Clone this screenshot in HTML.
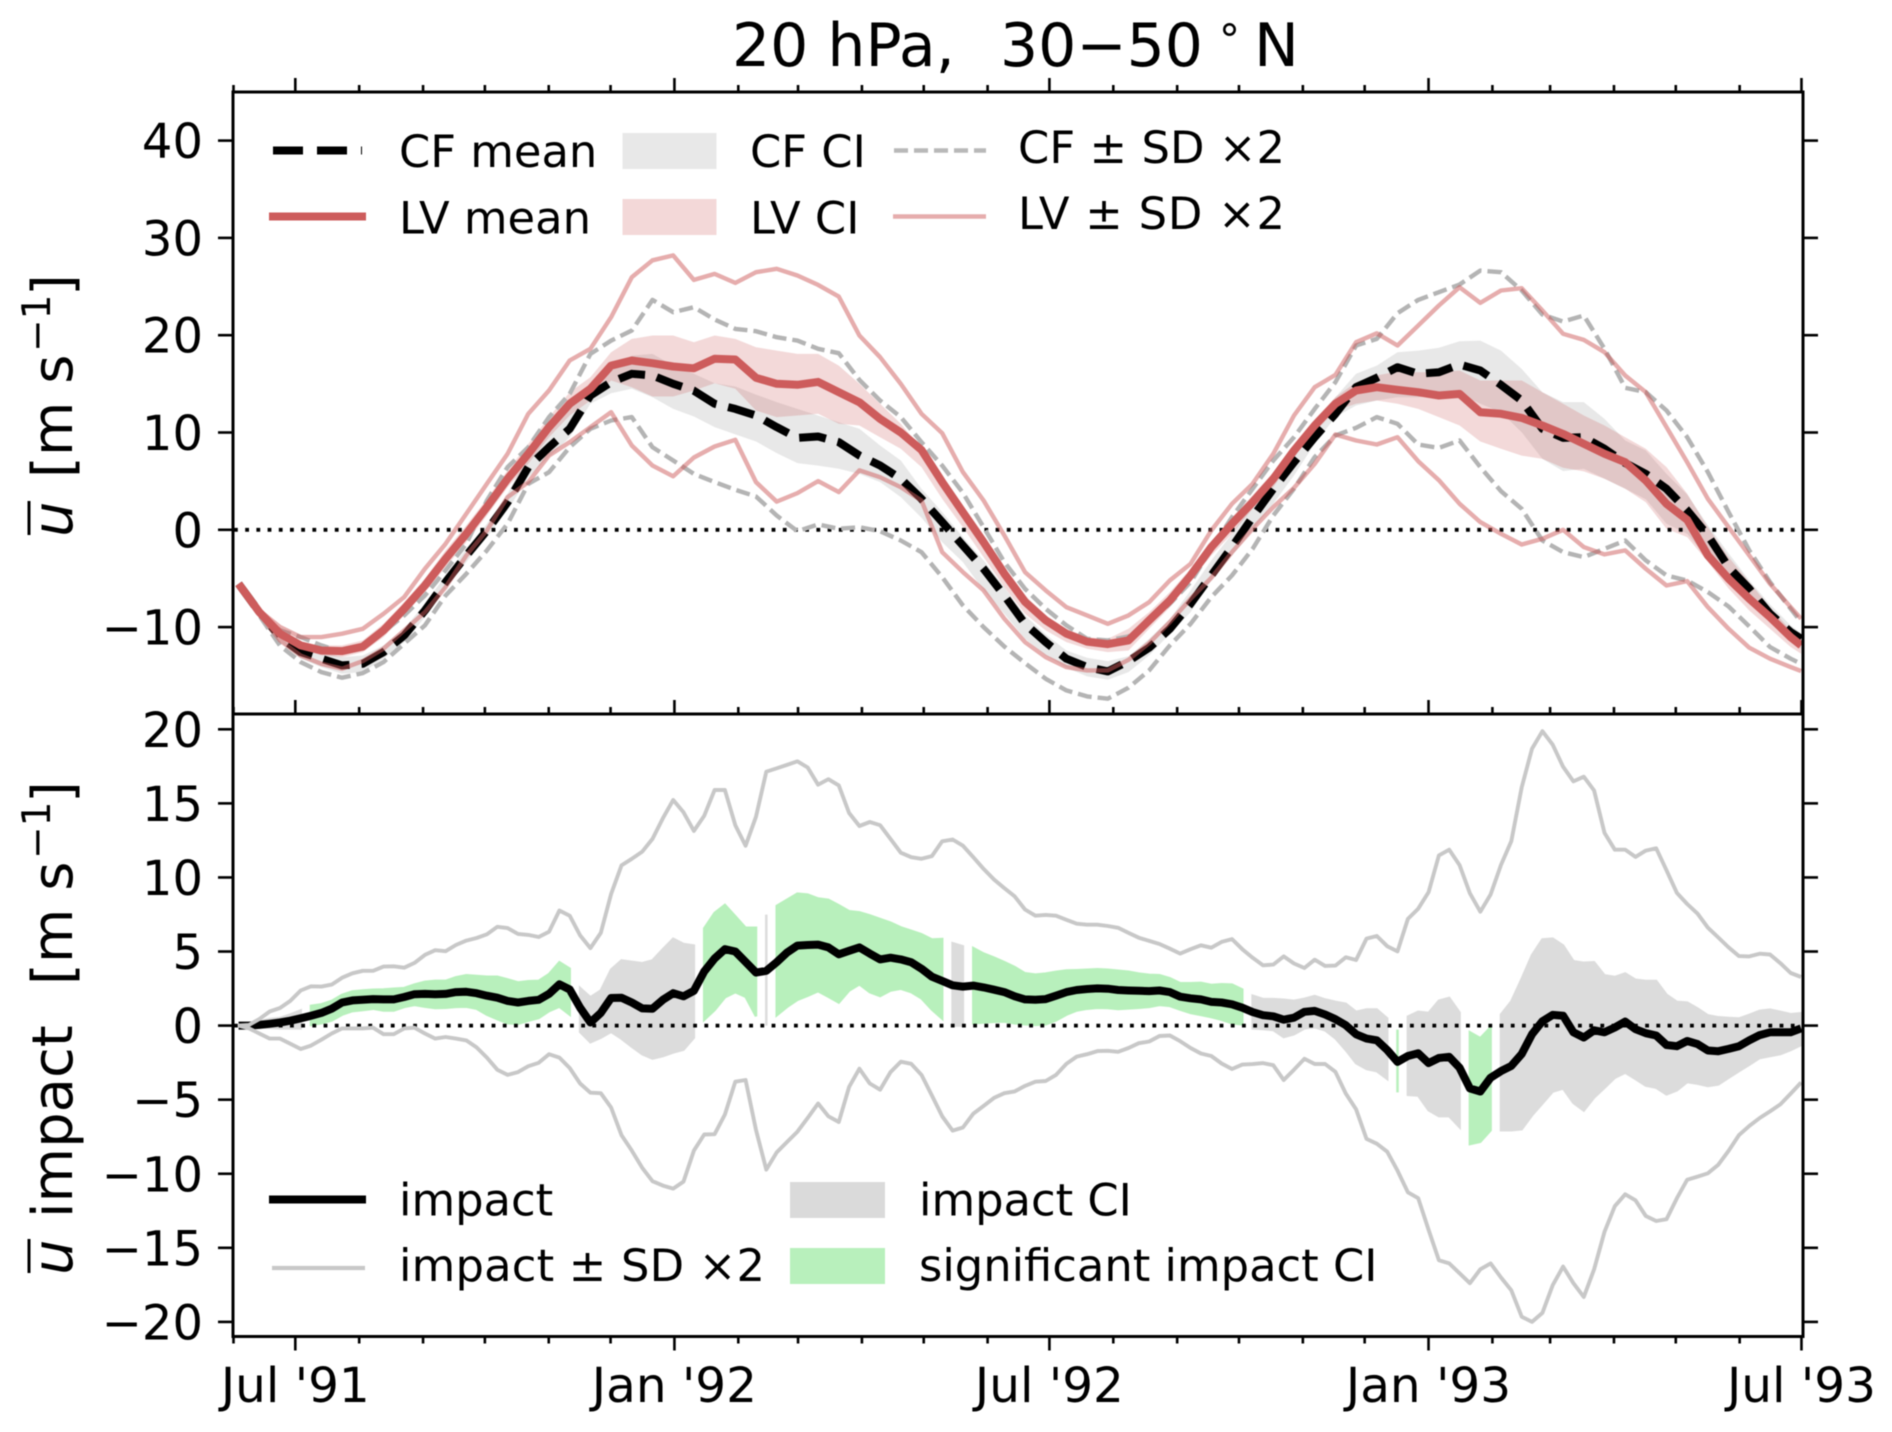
<!DOCTYPE html>
<html lang="en">
<head>
<meta charset="utf-8">
<title>20 hPa, 30−50°N zonal wind impact</title>
<style>
html,body{margin:0;padding:0;background:#fff;width:1892px;height:1432px;overflow:hidden}
svg{display:block;filter:blur(0.55px)}
text{font-family:"DejaVu Sans","Liberation Sans",sans-serif;fill:#000}
</style>
</head>
<body>
<svg id="chart" xmlns="http://www.w3.org/2000/svg" width="1892" height="1432" viewBox="0 0 1892 1432">
  <rect x="0" y="0" width="1892" height="1432" fill="#fff"/>
  <g id="top-marks"></g>
  <g id="bottom-marks"></g>
  <g id="axes"></g>

  <g>
    <text x="732" y="66" font-size="60">20 hPa,</text>
    <text x="1000" y="66" font-size="60">30−50</text>
    <text x="1219" y="54" font-size="42">°</text>
    <text x="1254" y="66" font-size="60">N</text>
  </g>

  <g>
    <text transform="translate(72,537) rotate(-90)" font-size="56" font-style="italic">u</text>
    <line x1="29" y1="535" x2="29" y2="501" stroke="#000" stroke-width="3"/>
    <text transform="translate(72,478) rotate(-90)" font-size="56" xml:space="preserve">[m s</text>
    <text transform="translate(50,352) rotate(-90)" font-size="39">−1</text>
    <text transform="translate(72,296) rotate(-90)" font-size="56">]</text>
  </g>
  <g>
    <text transform="translate(72,1275) rotate(-90)" font-size="56" font-style="italic">u</text>
    <line x1="29" y1="1273" x2="29" y2="1239" stroke="#000" stroke-width="3"/>
    <text transform="translate(72,1218) rotate(-90)" font-size="56">impact</text>
    <text transform="translate(72,985) rotate(-90)" font-size="56" xml:space="preserve">[m s</text>
    <text transform="translate(50,859) rotate(-90)" font-size="39">−1</text>
    <text transform="translate(72,803) rotate(-90)" font-size="56">]</text>
  </g>

  <g>
    <line x1="273" y1="150.5" x2="362" y2="150.5" stroke="#000" stroke-width="8" stroke-dasharray="30 14"/>
    <text x="399" y="167" font-size="44.8">CF mean</text>
    <line x1="269" y1="216.5" x2="366" y2="216.5" stroke="#cd5c5c" stroke-width="8"/>
    <text x="399" y="233.5" font-size="44.8">LV mean</text>
    <rect x="622.5" y="133" width="94" height="36" fill="#e8e8e8"/>
    <text x="750" y="167" font-size="44.8">CF CI</text>
    <rect x="622.5" y="199" width="94" height="36" fill="#f3d8d8"/>
    <text x="750" y="233.5" font-size="44.8">LV CI</text>
    <line x1="894" y1="150.5" x2="986" y2="150.5" stroke="#b8b8b8" stroke-width="4.4" stroke-dasharray="14 6"/>
    <text x="1018" y="163" font-size="44.8" textLength="267" lengthAdjust="spacing" xml:space="preserve">CF ± SD ×2</text>
    <line x1="893" y1="216.5" x2="986" y2="216.5" stroke="#e6adad" stroke-width="4.4"/>
    <text x="1018" y="229" font-size="44.8" textLength="267" lengthAdjust="spacing" xml:space="preserve">LV ± SD ×2</text>
  </g>

  <g>
    <line x1="269" y1="1199.5" x2="366" y2="1199.5" stroke="#000" stroke-width="8"/>
    <text x="399" y="1215.5" font-size="44.8">impact</text>
    <line x1="272" y1="1268" x2="365" y2="1268" stroke="#c8c8c8" stroke-width="4.2"/>
    <text x="399" y="1281" font-size="44.8" textLength="366" lengthAdjust="spacing" xml:space="preserve">impact ± SD ×2</text>
    <rect x="790" y="1182" width="95" height="36" fill="#dadada"/>
    <text x="919" y="1215.5" font-size="44.8">impact CI</text>
    <rect x="790" y="1248" width="95" height="36" fill="#b8f0bc"/>
    <text x="919" y="1281" font-size="44.8">significant impact CI</text>
  </g>
</svg>

<script>
// ---- Chart data: every value (m/s) ----
// Upper panel: one sample every second pentad, plus the final pentad.
const lvMean = [-5.55,-8.46,-10.68,-11.88,-12.4,-12.47,-12.0,-10.34,-8.12,-5.72,-2.98,-0.41,2.33,5.24,7.81,10.55,12.95,14.49,16.88,17.4,17.12,16.78,16.6,17.57,17.5,15.62,15.0,14.9,15.2,14.14,13.1,11.4,10.0,8.2,4.9,1.8,-1.27,-4.5,-7.4,-9.3,-10.68,-11.5,-11.75,-11.37,-9.3,-7.26,-4.7,-1.78,0.62,2.84,5.24,8.15,10.72,12.95,14.32,14.66,14.38,14.14,13.8,13.97,12.09,11.92,11.5,10.72,9.86,8.84,7.81,6.95,5.07,2.67,1.03,-2.64,-5.03,-7.09,-8.97,-11.03,-11.88];
const cfMean = [-5.55,-8.46,-11.03,-12.57,-13.25,-13.94,-13.77,-12.57,-10.86,-8.29,-5.38,-2.64,-0.07,2.84,6.44,8.49,10.38,13.8,15.17,16.03,15.86,15.0,14.3,12.95,12.43,11.75,10.55,9.45,9.59,9.01,7.64,6.61,5.24,3.18,0.79,-1.61,-4.01,-6.75,-9.66,-11.54,-13.25,-14.1,-14.55,-13.49,-12.12,-10.17,-7.6,-4.69,-1.78,1.3,4.21,6.95,9.52,11.92,14.66,15.62,16.71,16.03,16.2,16.99,16.37,14.89,13.29,10.38,9.45,9.52,8.32,6.85,5.75,4.21,1.99,-0.58,-3.84,-6.06,-8.63,-10.51,-11.2];
const lvSdUpper = [-5.55,-8.29,-9.99,-11.03,-11.03,-10.68,-10.17,-8.63,-6.92,-4.01,-1.44,1.64,4.73,7.81,11.92,14.32,17.4,18.6,21.85,25.96,27.7,28.2,25.68,26.3,25.38,26.47,26.82,26.14,25.17,23.97,19.97,17.74,14.99,11.92,9.93,5.93,3.01,-0.58,-4.35,-6.23,-7.95,-8.8,-9.66,-8.8,-7.43,-5.2,-3.49,-0.07,2.67,4.73,7.81,11.75,14.66,15.92,19.28,20.2,18.94,20.99,23.05,24.93,23.32,24.59,24.83,22.54,20.14,19.52,18.25,15.86,14.14,10.55,6.95,3.18,0.27,-2.64,-5.55,-7.95,-9.14];
const lvSdLower = [-5.55,-8.63,-11.37,-12.92,-13.77,-14.28,-13.49,-12.22,-10.34,-8.46,-5.89,-2.64,-0.07,3.36,4.9,7.64,9.01,10.55,12.09,8.66,6.6,5.5,7.43,8.56,9.25,4.9,2.9,3.77,5.0,3.87,6.1,5.41,4.38,3.01,-2.3,-4.35,-6.23,-9.14,-11.54,-13.08,-14.11,-14.45,-14.45,-13.36,-11.64,-9.49,-7.09,-4.93,-2.29,0.1,2.33,4.32,6.78,9.79,9.18,8.77,9.52,7.05,5.1,2.67,0.79,-0.41,-1.51,-0.92,0,-1.78,-2.53,-2.12,-4.01,-5.72,-5.27,-7.95,-10.17,-12.12,-13.25,-14.11,-14.52];
const cfSdUpper = [-5.55,-8.46,-10.34,-11.03,-11.88,-12.57,-11.88,-10.51,-8.8,-6.75,-4.18,-1.44,3.01,6.44,8.49,11.58,13.97,18.08,19.45,20.48,23.63,22.36,22.88,21.61,20.65,20.41,19.79,19.45,18.6,18.15,15.41,13.29,11.58,9.0,6.6,3.8,0.27,-3.32,-6.06,-8.12,-9.83,-11.2,-11.37,-10.96,-9.49,-7.6,-5.38,-1.95,1.3,4.21,7.12,9.52,12.43,15.17,18.94,19.62,22.26,23.63,24.42,25.21,26.64,26.47,24.59,22.12,21.4,22.02,18.6,14.59,14.14,12.26,9.52,5.92,1.82,-2.12,-5.38,-8.12,-9.49];
const cfSdLower = [-5.55,-8.8,-11.9,-13.6,-14.63,-15.2,-14.73,-13.6,-11.7,-9.83,-6.75,-4.52,-2.12,0.62,4.73,5.92,8.49,10.38,11.23,11.58,8.49,7.12,5.75,4.9,4.11,3.42,1.47,-0.14,0.55,0.1,0.27,-0.14,-1.1,-2.3,-4.86,-7.77,-10.0,-11.99,-13.7,-15.31,-16.51,-17.12,-17.36,-16.23,-14.45,-11.88,-9.66,-6.92,-4.69,-1.96,1.47,4.21,7.47,9.69,10.48,11.58,10.89,8.77,8.42,9.18,6.44,3.97,2.16,-1.1,-2.29,-2.81,-1.95,-1.1,-3.15,-4.69,-5.21,-6.4,-7.88,-9.93,-12.05,-13.25,-13.77];
const cfCiUpper = [-5.55,-8.36,-10.58,-11.92,-12.6,-13.08,-12.92,-11.88,-10.17,-7.6,-4.69,-1.96,0.62,3.7,7.81,10.55,12.6,15.0,16.71,17.9,18.08,16.89,16.03,15.07,14.73,13.9,13.12,12.43,11.75,11.06,10.38,8.66,7.12,4.21,1.82,-0.75,-3.15,-5.89,-8.8,-10.75,-12.4,-13.15,-13.49,-13.0,-11.2,-9.15,-6.23,-3.15,-0.41,2.67,5.58,8.32,11.06,13.63,16.03,16.88,18.25,18.42,18.7,19.38,19.45,18.42,16.54,14.14,13.12,13.12,11.4,9.18,8.15,5.75,3.63,0.45,-2.4,-5.21,-7.67,-9.83,-10.62];
const cfCiLower = [-5.55,-8.63,-11.54,-13.25,-14.11,-14.79,-14.62,-13.25,-11.54,-8.97,-6.06,-3.32,-0.75,2.0,5.41,7.47,9.52,12.95,14.04,14.49,13.63,12.43,11.64,10.55,9.8,9.08,7.88,6.85,6.6,6.27,5.75,4.9,3.36,1.23,-1.27,-3.32,-6.23,-8.63,-11.2,-12.91,-14.18,-15.07,-15.41,-14.62,-12.91,-10.68,-8.46,-5.21,-2.64,-0.07,2.67,5.58,8.84,11.58,12.78,13.29,13.63,13.63,13.8,13.97,12.95,12.09,10.03,7.29,6.03,6.27,5.24,4.21,3.15,0.62,-0.41,-3.0,-5.55,-7.43,-9.49,-11.54,-12.23];
const lvCiUpper = [-5.55,-8.36,-10.27,-11.54,-11.88,-11.88,-11.37,-9.66,-7.43,-5.03,-2.12,0.45,3.18,6.1,8.84,11.58,14.14,15.68,18.25,19.62,19.97,19.97,19.28,19.97,19.62,18.77,18.42,18.08,18.08,16.88,15.0,12.95,10.89,8.32,5.41,2.33,-0.75,-4.01,-6.75,-8.8,-10.17,-11.03,-11.2,-10.17,-8.46,-6.4,-4.01,-1.27,1.3,3.53,5.92,8.8,11.37,13.63,15.17,15.86,16.27,16.2,16.2,16.37,15.34,15.34,15.34,14.14,12.95,11.75,10.72,9.52,8.32,6.44,3.7,0.27,-2.81,-5.38,-7.95,-10.34,-11.03];
const lvCiLower = [-5.55,-8.56,-11.03,-12.23,-12.91,-13.08,-12.57,-11.03,-8.8,-6.4,-3.84,-1.27,1.47,4.38,6.78,9.52,11.75,13.29,15.34,14.66,13.7,13.7,14.32,15.07,14.49,12.26,11.58,11.75,11.92,10.89,10.72,9.52,8.32,6.44,3.18,0.27,-2.81,-5.89,-8.63,-10.34,-11.54,-12.23,-12.57,-12.4,-10.17,-7.95,-5.21,-2.64,-0.41,2.16,4.38,7.47,10.03,12.26,12.95,13.29,12.95,12.43,11.58,10.72,9.08,8.32,7.63,7.29,6.37,6.0,5.24,4.21,2.84,0.1,-0.75,-3.3,-6.03,-8.29,-10.17,-12.05,-12.74];

// Lower panel: one sample per pentad.
const impactMean = [0,0,0.05,0.12,0.21,0.33,0.49,0.67,0.86,1.14,1.56,1.7,1.74,1.79,1.77,1.77,1.93,2.12,2.14,2.12,2.14,2.26,2.28,2.19,2.02,1.88,1.67,1.56,1.67,1.74,2.14,2.79,2.44,1.21,0.21,0.86,1.86,1.88,1.56,1.16,1.14,1.74,2.19,1.98,2.35,3.65,4.53,5.16,5.0,4.3,3.58,3.7,4.28,4.93,5.4,5.44,5.47,5.28,4.81,5.05,5.28,4.86,4.47,4.58,4.47,4.28,3.84,3.3,3.02,2.72,2.63,2.7,2.58,2.42,2.26,1.98,1.77,1.74,1.79,2.02,2.26,2.4,2.47,2.51,2.49,2.4,2.37,2.35,2.33,2.37,2.26,1.95,1.84,1.77,1.6,1.56,1.44,1.21,0.91,0.7,0.63,0.4,0.53,0.93,0.99,0.75,0.43,0.03,-0.59,-0.88,-0.99,-1.65,-2.45,-2.05,-1.87,-2.53,-2.19,-2.11,-2.85,-4.24,-4.45,-3.52,-3.07,-2.72,-1.92,-0.59,0.29,0.72,0.67,-0.45,-0.8,-0.32,-0.45,-0.13,0.27,-0.24,-0.51,-0.67,-1.31,-1.39,-1.04,-1.25,-1.68,-1.73,-1.57,-1.39,-0.99,-0.64,-0.45,-0.45,-0.45,-0.19];
const impactSdUpper = [0,0.05,0.44,0.95,1.19,1.67,2.37,2.65,2.63,2.77,3.23,3.53,3.7,3.7,3.98,4.0,3.91,4.23,4.77,5.09,5.02,5.44,5.74,5.91,6.16,6.67,6.58,6.19,6.12,5.98,6.33,7.77,7.42,6.09,5.23,6.26,8.88,10.81,11.26,11.74,12.6,14.0,15.23,14.4,13.14,14.16,15.9,15.9,13.53,12.14,14.1,17.14,17.37,17.6,17.84,17.42,16.26,16.63,16.21,14.35,13.47,13.74,13.53,12.6,11.67,11.37,11.26,11.44,12.44,12.56,12.14,11.37,10.58,9.86,9.28,8.72,7.84,7.42,7.47,7.42,7.14,6.88,6.81,6.81,6.72,6.6,6.26,5.93,5.72,5.51,5.19,4.86,5.16,5.42,5.26,5.65,5.84,5.16,4.58,4.07,4.12,4.67,4.19,3.89,4.45,4.03,4.05,4.61,4.43,5.87,6.05,5.36,5.01,7.2,7.89,9.01,11.49,11.87,10.83,8.93,7.69,8.85,10.85,12.45,16.08,18.69,19.87,18.96,17.47,16.48,16.8,15.87,13.01,11.87,11.87,11.39,11.81,11.97,10.48,8.96,8.21,7.55,6.61,5.95,5.28,4.69,4.67,4.85,4.8,4.21,3.55,3.28];
const impactSdLower = [0,-0.19,-0.53,-0.88,-0.88,-1.23,-1.58,-1.35,-0.95,-0.53,-0.19,-0.19,-0.19,-0.14,-0.58,-0.58,-0.19,-0.14,-0.53,-0.88,-0.77,-0.88,-1.0,-1.47,-2.16,-2.98,-3.33,-3.14,-2.74,-2.51,-1.93,-2.16,-2.86,-3.91,-4.53,-4.56,-5.53,-7.4,-8.44,-9.6,-10.5,-10.8,-11.0,-10.53,-8.44,-7.35,-7.33,-6.0,-3.79,-3.67,-7.05,-9.72,-8.56,-7.86,-7.16,-6.23,-5.26,-6.12,-6.51,-4.14,-2.91,-3.91,-4.33,-3.14,-2.44,-2.58,-3.33,-4.72,-6.12,-7.09,-6.88,-5.95,-5.42,-4.88,-4.56,-4.44,-4.07,-3.79,-3.74,-3.33,-2.58,-2.09,-1.93,-1.72,-1.7,-1.77,-1.51,-1.19,-1.07,-0.7,-0.67,-1.05,-1.51,-1.88,-2.05,-2.56,-2.93,-2.63,-2.6,-2.53,-2.67,-3.67,-2.98,-2.24,-2.59,-2.59,-3.12,-4.59,-5.65,-7.65,-7.97,-8.51,-9.79,-11.25,-11.65,-13.79,-15.84,-16.05,-16.72,-17.39,-16.45,-16.05,-17.0,-17.87,-19.65,-20.0,-19.39,-17.52,-16.27,-17.39,-18.32,-16.45,-13.92,-12.19,-11.39,-11.79,-12.85,-13.19,-13.07,-11.65,-10.4,-10.19,-9.97,-9.39,-8.45,-7.39,-6.77,-6.24,-5.79,-5.31,-4.59,-3.84];
const impactCiUpper = [0,0.05,0.28,0.44,0.51,0.74,1.02,1.33,1.44,1.67,2.07,2.3,2.37,2.42,2.44,2.49,2.53,2.77,2.95,3.02,3.02,3.26,3.4,3.35,3.3,3.3,3.12,2.91,3.0,3.02,3.47,4.28,3.84,2.53,1.91,2.37,3.77,4.4,4.3,4.21,4.4,5.16,5.86,5.51,5.4,6.56,7.6,8.14,7.37,6.6,6.6,7.49,8.07,8.49,8.91,8.84,8.58,8.49,8.12,7.72,7.65,7.44,7.19,6.95,6.63,6.4,6.16,5.81,5.84,5.56,5.35,5.23,4.86,4.58,4.28,3.95,3.53,3.44,3.51,3.63,3.72,3.74,3.77,3.81,3.77,3.7,3.63,3.51,3.42,3.4,3.19,2.86,2.86,2.88,2.74,2.79,2.77,2.44,2.02,1.79,1.79,1.74,1.67,1.81,2.0,1.76,1.6,1.47,0.93,1.09,1.09,0.48,-0.27,0.61,0.93,0.85,1.68,1.87,0.88,-0.45,-0.85,-0.13,0.75,1.63,3.15,4.75,5.81,5.87,5.41,4.35,4.24,4.27,3.39,3.28,3.52,3.09,3.01,3.01,2.08,1.6,1.55,1.15,0.69,0.56,0.51,0.48,0.72,0.99,1.07,0.93,0.77,0.83];
const impactCiLower = [0,-0.02,-0.1,-0.15,-0.19,-0.19,-0.19,0.05,0.16,0.35,0.74,0.98,1.05,1.14,1.02,1.02,1.26,1.4,1.28,1.19,1.21,1.26,1.28,1.14,0.74,0.44,0.16,0.12,0.33,0.51,0.98,1.28,0.74,-0.42,-1.12,-0.81,-0.42,-0.88,-1.42,-1.93,-2.23,-2.05,-1.81,-1.63,-0.81,0.4,1.05,1.91,2.26,1.95,0.63,0,0.7,1.26,1.74,2.02,2.33,1.95,1.56,2.37,2.79,2.26,2.0,2.37,2.49,2.26,1.84,1.09,0.47,0,0,0.16,0.21,0.26,0.28,0.16,0.09,0.05,0.09,0.35,0.74,1.02,1.14,1.21,1.19,1.12,1.16,1.21,1.26,1.4,1.33,1.09,0.86,0.72,0.58,0.4,0.16,0.09,-0.19,-0.23,-0.3,-0.77,-0.58,-0.19,-0.11,-0.32,-0.85,-1.65,-2.53,-2.93,-3.07,-3.6,-4.51,-4.67,-4.72,-5.71,-6.11,-6.11,-6.85,-8.0,-7.84,-7.07,-7.07,-7.07,-6.99,-6.05,-5.25,-4.45,-4.24,-5.21,-5.73,-4.85,-4.19,-3.52,-3.17,-3.6,-4.05,-4.19,-4.64,-4.37,-3.81,-3.92,-4.08,-3.97,-3.52,-3.07,-2.64,-2.19,-2.05,-1.92,-1.65,-1.31];

// Contiguous CI runs (first pentad, last pentad, statistically significant?).
const ciRunFirst = [0,7,33,45,51,52,69,71,98,112,113,119,122];
const ciRunLast = [6,32,44,50,51,68,70,97,111,112,118,121,151];
const ciRunSignificant = [false,true,false,true,false,true,false,true,false,true,false,true,false];

// Tick values and labels.
const topYTicks = [40,30,20,10,0,-10];
const bottomYTicks = [20,15,10,5,0,-5,-10,-15,-20];
const xMajorDates = ["1991-07-01","1992-01-01","1992-07-01","1993-01-01","1993-07-01"];
const xMajorLabels = ["Jul '91","Jan '92","Jul '92","Jan '93","Jul '93"];

// ---- Axis functions ----
const AXIS_START = Date.UTC(1991,5,1);
const DAY_MS = 86400000;
const PENTAD_OFFSET_DAYS = 2.48;
const PENTAD_STEP_DAYS = 5.022;
const xOfDay = d => 233.5 + d * 2.0604;
const xOfPentad = i => xOfDay(PENTAD_OFFSET_DAYS + i * PENTAD_STEP_DAYS);
const xOfDate = ms => xOfDay((ms - AXIS_START) / DAY_MS);
const yTop = v => 529.8 - 9.73 * v;
const yBottom = v => 1025.6 - 14.815 * v;
const topPentad = (k, n) => k === n - 1 ? 151 : 2 * k;

const SVGNS = "http://www.w3.org/2000/svg";
const topGroup = document.getElementById('top-marks');
const bottomGroup = document.getElementById('bottom-marks');
const axesGroup = document.getElementById('axes');

function mk(tag, parent) {
  const e = document.createElementNS(SVGNS, tag);
  parent.appendChild(e);
  return e;
}
function topPoints(values) {
  return values.map((v, k) => [xOfPentad(topPentad(k, values.length)), yTop(v)]);
}
function bottomPoints(values, first, last) {
  const pts = [];
  for (let i = first; i <= last; i++) pts.push([xOfPentad(i), yBottom(values[i])]);
  return pts;
}
function toD(pts) {
  return pts.map((p, i) => (i ? 'L' : 'M') + p[0].toFixed(1) + ' ' + p[1].toFixed(1)).join('');
}
function polyline(parent, pts, color, width, dash) {
  const p = mk('path', parent);
  p.setAttribute('d', toD(pts));
  p.setAttribute('fill', 'none');
  p.setAttribute('stroke', color);
  p.setAttribute('stroke-width', width);
  p.setAttribute('stroke-linejoin', 'round');
  if (dash) p.setAttribute('stroke-dasharray', dash);
  return p;
}
function band(parent, upper, lower, fill, opacity, strokeWidth) {
  const p = mk('path', parent);
  p.setAttribute('d', toD(upper.concat(lower.slice().reverse())) + 'Z');
  p.setAttribute('fill', fill);
  if (opacity) p.setAttribute('fill-opacity', opacity);
  if (strokeWidth) {
    p.setAttribute('stroke', fill);
    p.setAttribute('stroke-width', strokeWidth);
  }
  return p;
}
function dotted(parent, y) {
  const l = mk('line', parent);
  l.setAttribute('x1', 234);
  l.setAttribute('x2', 1803);
  l.setAttribute('y1', y);
  l.setAttribute('y2', y);
  l.setAttribute('stroke', '#000');
  l.setAttribute('stroke-width', 3.8);
  l.setAttribute('stroke-dasharray', '3.8 7.4');
  return l;
}

// ---- Upper panel ----
const cfCiBand = band(topGroup, topPoints(cfCiUpper), topPoints(cfCiLower), '#000000', 0.09);


const lvCiBand = band(topGroup, topPoints(lvCiUpper), topPoints(lvCiLower), '#cd5c5c', 0.23);


const topZero = dotted(topGroup, yTop(0));


const cfMeanLine = polyline(topGroup, topPoints(cfMean), '#000', 8, '27 12');


const cfUpLine = polyline(topGroup, topPoints(cfSdUpper), '#b4b4b4', 4.4, '14 6');


const cfLoLine = polyline(topGroup, topPoints(cfSdLower), '#b4b4b4', 4.4, '14 6');


const lvUpLine = polyline(topGroup, topPoints(lvSdUpper), 'rgba(205,92,92,0.5)', 4.4);


const lvLoLine = polyline(topGroup, topPoints(lvSdLower), 'rgba(205,92,92,0.5)', 4.4);


const lvMeanLine = polyline(topGroup, topPoints(lvMean), '#cd5c5c', 8);



// ---- Lower panel ----
ciRunFirst.forEach((first, r) => {
  const last = ciRunLast[r];
  const run = band(bottomGroup,
    bottomPoints(impactCiUpper, first, last),
    bottomPoints(impactCiLower, first, last),
    ciRunSignificant[r] ? '#b8f0bc' : '#dcdcdc', null, 2.5);
  
  
});
const bottomZero = dotted(bottomGroup, yBottom(0));


const impactLine = polyline(bottomGroup, bottomPoints(impactMean, 0, 151), '#000', 8);


const impUpLine = polyline(bottomGroup, bottomPoints(impactSdUpper, 0, 151), '#c8c8c8', 3.9);


const impLoLine = polyline(bottomGroup, bottomPoints(impactSdLower, 0, 151), '#c8c8c8', 3.9);



// ---- Axes, ticks and tick labels ----
function seg(x1, y1, x2, y2, w) {
  const l = mk('line', axesGroup);
  l.setAttribute('x1', x1);
  l.setAttribute('y1', y1);
  l.setAttribute('x2', x2);
  l.setAttribute('y2', y2);
  l.setAttribute('stroke', '#000');
  l.setAttribute('stroke-width', w);
  return l;
}
const LEFT = 233, RIGHT = 1803, TOP = 92, MID = 714, BOTTOM = 1336.5;
const frame = mk('path', axesGroup);
frame.setAttribute('d', `M${LEFT} ${TOP}H${RIGHT}V${BOTTOM}H${LEFT}ZM${LEFT} ${MID}H${RIGHT}`);
frame.setAttribute('fill', 'none');
frame.setAttribute('stroke', '#000');
frame.setAttribute('stroke-width', 3);



const majorSet = new Set(xMajorDates);
for (let m = 0; m <= 25; m++) {
  const date = new Date(Date.UTC(1991, 5 + m, 1));
  const key = date.toISOString().slice(0, 10);
  const major = majorSet.has(key);
  const len = major ? 14 : 7;
  const x = xOfDate(date.getTime());
  [[TOP, -1], [MID, -1], [BOTTOM, 1]].forEach(([y, dir]) => {
    const t = seg(x, y, x, y + dir * len, 2.6);
    
    
  });
}
function yTicks(values, scale) {
  values.forEach(v => {
    const y = scale(v);
    const l = seg(LEFT - 15, y, LEFT, y, 2.6);
    
    
    const r = seg(RIGHT, y, RIGHT + 15, y, 2.6);
    
    
    const label = mk('text', axesGroup);
    label.setAttribute('x', 203);
    label.setAttribute('y', y + 17.5);
    label.setAttribute('font-size', 48);
    label.setAttribute('text-anchor', 'end');
    label.textContent = String(v).replace('-', '−');
    
    
  });
}
yTicks(topYTicks, yTop);
yTicks(bottomYTicks, yBottom);
xMajorDates.forEach((d, i) => {
  const label = mk('text', axesGroup);
  label.setAttribute('x', xOfDate(Date.parse(d + 'T00:00:00Z')));
  label.setAttribute('y', 1402);
  label.setAttribute('font-size', 48.5);
  label.setAttribute('text-anchor', 'middle');
  label.textContent = xMajorLabels[i];
  
  
});
</script>
</body>
</html>
